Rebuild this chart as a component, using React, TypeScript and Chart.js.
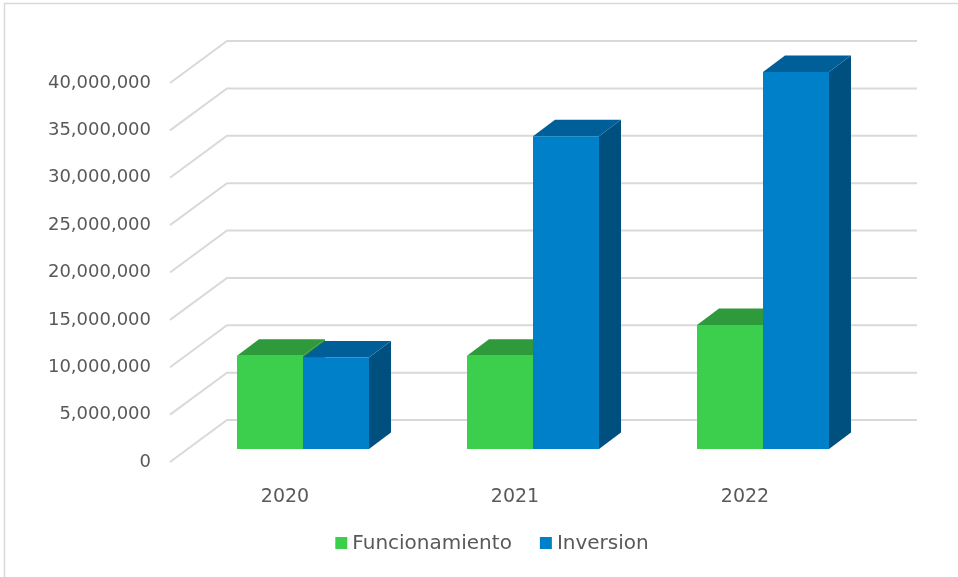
import React, { useEffect, useRef } from 'react';
import { Chart, registerables } from 'chart.js';

Chart.register(...registerables);

// ---- data ----
const categories = ['2020', '2021', '2022'];
const seriesNames = ['Funcionamiento', 'Inversion'];
const funcionamiento = [9840000, 9840000, 13080000];
const inversion = [9670000, 33000000, 39800000];
const yTickValues = [0, 5000000, 10000000, 15000000, 20000000, 25000000, 30000000, 35000000, 40000000];

// ---- styles ----
const frontColors = ['#3ccf4e', '#0080c9'];
const topColors = ['#2f9a3b', '#005f98'];
const sideColors = ['#288a33', '#00507f'];
const gridColor = '#d9d9d9';
const textColor = '#595959';
const FONT = "'DejaVu Sans', sans-serif";

const WALL_DX = 57;
const WALL_DY = 42;
const BAR_SHIFT_X = 18;
const BAR_SHIFT_Y = 13;
const BAR_DX = 22;
const BAR_DY = 16.5;

function poly(ctx: CanvasRenderingContext2D, pts: number[][], color: string) {
  ctx.beginPath();
  ctx.moveTo(pts[0][0], pts[0][1]);
  for (let k = 1; k < pts.length; k++) ctx.lineTo(pts[k][0], pts[k][1]);
  ctx.closePath();
  ctx.fillStyle = color;
  ctx.fill();
}

const threeD = {
  id: 'threeD',
  beforeDraw(chart: any) {
    const ctx = chart.ctx;
    ctx.save();
    ctx.strokeStyle = gridColor;
    ctx.lineWidth = 1.5;
    ctx.beginPath();
    ctx.moveTo(4.5, chart.height);
    ctx.lineTo(4.5, 3.5);
    ctx.lineTo(chart.width, 3.5);
    ctx.stroke();
    ctx.restore();
  },
  beforeDatasetsDraw(chart: any) {
    const { ctx, chartArea } = chart;
    const y = chart.scales.y;
    ctx.save();
    ctx.strokeStyle = gridColor;
    ctx.lineWidth = 2;
    y.ticks.forEach((t: any) => {
      const py = y.getPixelForValue(t.value);
      ctx.beginPath();
      ctx.moveTo(chartArea.left, py);
      ctx.lineTo(chartArea.left + WALL_DX, py - WALL_DY);
      ctx.lineTo(chartArea.right + WALL_DX, py - WALL_DY);
      ctx.stroke();
    });
    ctx.restore();

    const metas = chart.getSortedVisibleDatasetMetas();
    ctx.save();
    for (let i = 0; i < categories.length; i++) {
      for (const meta of metas) {
        const el = meta.data[i];
        const p = el.getProps(['x', 'y', 'base', 'width'], true);
        const x0 = p.x - p.width / 2 + BAR_SHIFT_X;
        const x1 = p.x + p.width / 2 + BAR_SHIFT_X;
        const yt = p.y - BAR_SHIFT_Y;
        const yb = p.base - BAR_SHIFT_Y;
        const d = meta.index;
        poly(ctx, [[x1, yt], [x1 + BAR_DX, yt - BAR_DY], [x1 + BAR_DX, yb - BAR_DY], [x1, yb]], sideColors[d]);
        poly(ctx, [[x0, yt], [x0 + BAR_DX, yt - BAR_DY], [x1 + BAR_DX, yt - BAR_DY], [x1, yt]], topColors[d]);
        poly(ctx, [[x0, yt], [x1, yt], [x1, yb], [x0, yb]], frontColors[d]);
      }
    }
    ctx.restore();
    return false;
  },
  afterDraw(chart: any) {
    const ctx = chart.ctx;
    ctx.save();
    ctx.font = `20px ${FONT}`;
    ctx.textBaseline = 'middle';
    const box = 12;
    const gapBoxText = 5;
    const gapItems = 28;
    const datasets = chart.data.datasets;
    const widths = datasets.map((ds: any) => box + gapBoxText + ctx.measureText(ds.label).width);
    const total = widths.reduce((a: number, b: number) => a + b, 0) + gapItems * (datasets.length - 1);
    let x = 492 - total / 2;
    const cy = 543;
    datasets.forEach((ds: any, k: number) => {
      ctx.fillStyle = ds.backgroundColor;
      ctx.fillRect(x, cy - box / 2, box, box);
      ctx.fillStyle = textColor;
      ctx.fillText(ds.label, x + box + gapBoxText, cy + 1);
      x += widths[k] + gapItems;
    });
    ctx.restore();
  },
};

export default function App() {
  const ref = useRef<HTMLCanvasElement>(null);
  useEffect(() => {
    if (!ref.current) return;
    const chart = new Chart(ref.current, {
      type: 'bar',
      data: {
        labels: categories,
        datasets: [
          { label: seriesNames[0], data: funcionamiento, backgroundColor: frontColors[0] },
          { label: seriesNames[1], data: inversion, backgroundColor: frontColors[1] },
        ],
      },
      options: {
        responsive: false,
        animation: false,
        devicePixelRatio: 1,
        layout: { padding: { top: 83, right: 98, left: 0, bottom: 0 } },
        datasets: { bar: { categoryPercentage: 0.574, barPercentage: 1 } },
        plugins: { legend: { display: false }, tooltip: { enabled: false }, title: { display: false } },
        scales: {
          x: {
            grid: { display: false },
            border: { display: false },
            ticks: { color: textColor, font: { family: FONT, size: 19 }, padding: 16 },
            afterFit: (s: any) => { s.height = 115; },
          },
          y: {
            min: 0,
            max: 40000000,
            grid: { display: false, drawTicks: false },
            border: { display: false },
            afterBuildTicks: (s: any) => { s.ticks = yTickValues.map((v) => ({ value: v })); },
            ticks: {
              color: textColor,
              font: { family: FONT, size: 18 },
              padding: 19,
              callback: (v: any) => Number(v).toLocaleString('en-US'),
            },
            afterFit: (s: any) => { s.width = 170; },
          },
        },
      },
      plugins: [threeD],
    } as any);
    return () => chart.destroy();
  }, []);
  return (
    <div style={{ position: 'absolute', left: 0, top: 0, width: 958, height: 577, background: '#fff' }}>
      <canvas ref={ref} width={958} height={577} />
    </div>
  );
}
